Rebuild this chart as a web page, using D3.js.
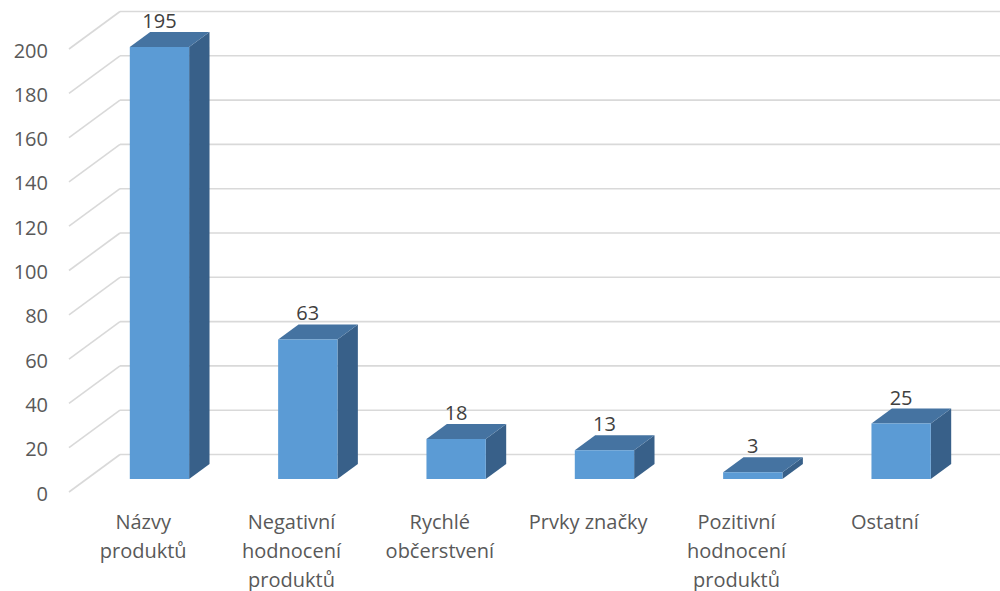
<!DOCTYPE html>
<html>
<head>
<meta charset="utf-8">
<script src="https://cdn.jsdelivr.net/npm/d3@7"></script>
<style>
  html, body { margin: 0; padding: 0; background: #ffffff; }
  svg { display: block; font-family: "Open Sans", sans-serif; }
</style>
</head>
<body>
<svg id="chart" width="1000" height="591"></svg>
<script>
// Categories and counts
const categories = [
  "Názvy produktů",
  "Negativní hodnocení produktů",
  "Rychlé občerstvení",
  "Prvky značky",
  "Pozitivní hodnocení produktů",
  "Ostatní"
];
const values = [195, 63, 18, 13, 3, 25];
const yTicks = [0, 20, 40, 60, 80, 100, 120, 140, 160, 180, 200];

const svg = d3.select("#chart");

// Oblique 3D projection: front plane (depth 0) and back wall (depth 1)
const depthDX = 51, depthDY = -37.5;
const depth = d3.scaleLinear().domain([0, 1]).range([0, 1]);
const proj = (px, py, z) => [px + depthDX * depth(z), py + depthDY * depth(z)];

const x = d3.scaleBand().domain(categories).range([69, 959]).paddingInner(0).paddingOuter(0);
const y = d3.scaleLinear().domain([0, 200]).range([492, 49]);

const gridColor = "#d9d9d9";
const textColor = "#595959";

// Back wall and side wall gridlines
const grid = svg.append("g");
yTicks.forEach(t => {
  const [bx, by] = proj(x.range()[0], y(t), 1);
  const [ex] = proj(x.range()[1], y(t), 1);
  grid.append("line")
    .attr("x1", x.range()[0]).attr("y1", y(t))
    .attr("x2", bx).attr("y2", by)
    .attr("stroke", gridColor).attr("stroke-width", 1.6);
  grid.append("line")
    .attr("x1", bx).attr("y1", by)
    .attr("x2", ex).attr("y2", by)
    .attr("stroke", gridColor).attr("stroke-width", 1.6);
});

// Value axis labels
svg.append("g").selectAll("text")
  .data(yTicks).join("text")
  .attr("x", 48)
  .attr("y", d => y(d) + 1)
  .attr("text-anchor", "end")
  .attr("dominant-baseline", "central")
  .attr("font-size", 20)
  .attr("fill", textColor)
  .text(d => d);

// Columns
const z0 = 0.347, z1 = 0.747;
const barFrac = 0.4;
const colFront = "#5b9bd5", colTop = "#4573a1", colSide = "#386089";

const bars = svg.append("g");
categories.forEach((c, i) => {
  const v = values[i];
  const w = x.bandwidth() * barFrac;
  const left = x(c) + x.bandwidth() / 2 - w / 2 - 1.4;
  const right = left + w;
  const yb = y(0), yt = y(v);
  const P = (px, py, z) => proj(px, py, z).join(",");
  const g = bars.append("g");
  // side face
  g.append("polygon")
    .attr("points", [P(right, yb, z0), P(right, yb, z1), P(right, yt, z1), P(right, yt, z0)].join(" "))
    .attr("fill", colSide);
  // top face
  g.append("polygon")
    .attr("points", [P(left, yt, z0), P(right, yt, z0), P(right, yt, z1), P(left, yt, z1)].join(" "))
    .attr("fill", colTop);
  // front face
  g.append("polygon")
    .attr("points", [P(left, yb, z0), P(right, yb, z0), P(right, yt, z0), P(left, yt, z0)].join(" "))
    .attr("fill", colFront);
  // value label
  const [lx] = proj((left + right) / 2, yt, z0);
  const [, ly] = proj(left, yt, z1);
  g.append("text")
    .attr("x", lx)
    .attr("y", ly - 4)
    .attr("text-anchor", "middle")
    .attr("font-size", 20)
    .attr("fill", "#404040")
    .text(v);
});

// Category labels, wrapped to the column band
const catG = svg.append("g");
const maxW = 135;
categories.forEach(c => {
  const t = catG.append("text")
    .attr("x", x(c) + x.bandwidth() / 2)
    .attr("y", 529)
    .attr("text-anchor", "middle")
    .attr("font-size", 20)
    .attr("fill", textColor);
  const words = c.split(" ");
  let line = [];
  let lineNo = 0;
  let tspan = t.append("tspan").attr("x", x(c) + x.bandwidth() / 2).attr("dy", 0);
  words.forEach(wd => {
    line.push(wd);
    tspan.text(line.join(" "));
    if (tspan.node().getComputedTextLength() > maxW && line.length > 1) {
      line.pop();
      tspan.text(line.join(" "));
      line = [wd];
      lineNo++;
      tspan = t.append("tspan").attr("x", x(c) + x.bandwidth() / 2).attr("dy", 29).text(wd);
    }
  });
});
</script>
</body>
</html>
